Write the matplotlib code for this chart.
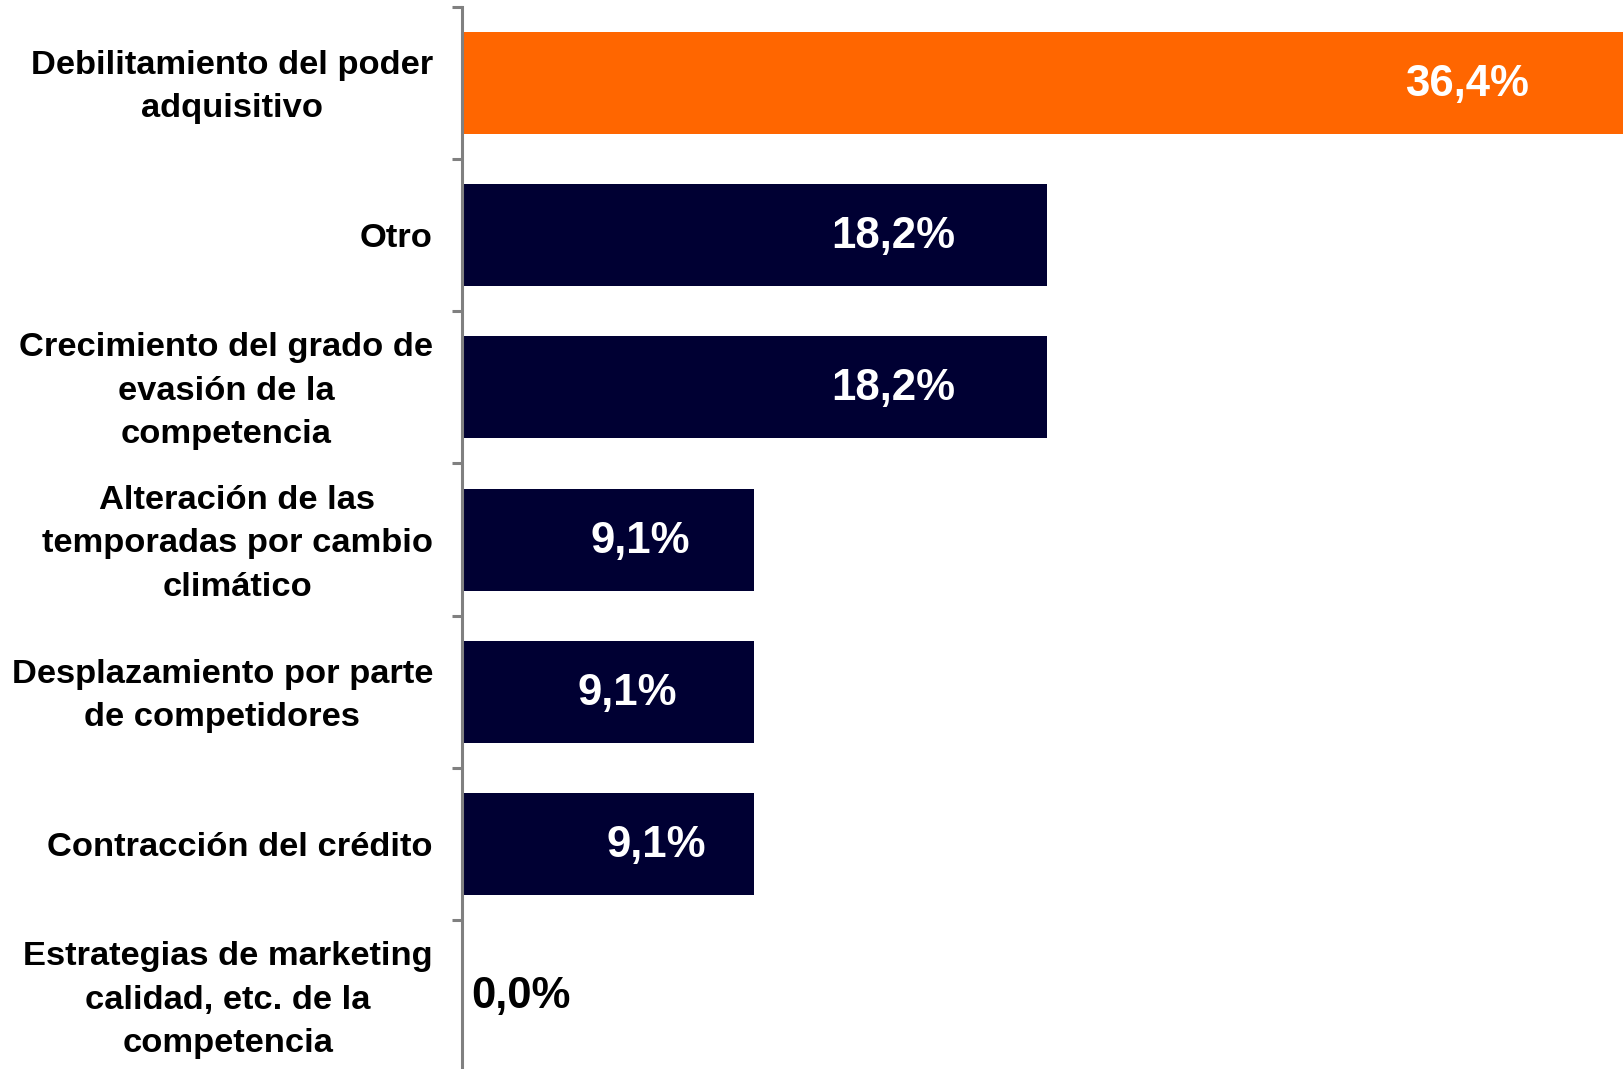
import matplotlib.pyplot as plt
from matplotlib.transforms import ScaledTranslation, blended_transform_factory

# Datos del gráfico
categorias = [
    "Debilitamiento del poder\nadquisitivo",
    "Otro",
    "Crecimiento del grado de\nevasión de la\ncompetencia",
    "Alteración de las\ntemporadas por cambio\nclimático",
    "Desplazamiento por parte\nde competidores",
    "Contracción del crédito",
    "Estrategias de marketing\ncalidad, etc. de la\ncompetencia",
]
valores = [36.4, 18.2, 18.2, 9.1, 9.1, 9.1, 0.0]
etiquetas = ["36,4%", "18,2%", "18,2%", "9,1%", "9,1%", "9,1%", "0,0%"]

NARANJA = "#FF6600"
AZUL = "#000033"

plt.rcParams['font.family'] = ['Liberation Sans', 'DejaVu Sans']

fig = plt.figure(figsize=(16.23, 10.69), dpi=100)
ax = fig.add_axes([0.2847, -0.003, 0.7153, 0.9965])

y = list(range(len(categorias)))
colores = [NARANJA] + [AZUL] * (len(valores) - 1)
ax.barh(y, valores, height=0.67, color=colores)

# posición horizontal de cada etiqueta (desplazamiento desde el final de la barra)
desplaz = [5.1, 4.76, 4.76, 3.55, 3.95, 3.05]
for i, (v, txt) in enumerate(zip(valores, etiquetas)):
    if v > 0:
        ax.text(v - desplaz[i], i + 0.01, txt, ha='center', va='center',
                color='white', fontsize=31.5, fontweight='bold')
    else:
        ax.text(0.28, i, txt, ha='left', va='center',
                color='black', fontsize=31.5, fontweight='bold')

ax.set_xlim(0, 36.15)
ax.set_ylim(len(categorias) - 0.5, -0.5)
ax.set_yticks([i - 0.5 for i in y] + [len(y) - 0.5])
ax.set_yticklabels([])
ax.tick_params(axis='y', which='major', length=7, width=2.2, color='#808080')

# etiquetas de categoría como texto
trans = blended_transform_factory(ax.transAxes, ax.transData)
for i, cat in enumerate(categorias):
    sube = -2.9 if '\n' in cat else -2.6
    t = trans + ScaledTranslation(-21 / 72, sube / 72, fig.dpi_scale_trans)
    ax.text(0, i, cat, transform=t, ha='right', va='center', ma='center',
            fontsize=24.8, fontweight='bold', linespacing=1.52)

ax.set_xticks([])
for s in ['top', 'right', 'bottom']:
    ax.spines[s].set_visible(False)
ax.spines['left'].set_color('#808080')
ax.spines['left'].set_linewidth(2.2)

fig.savefig('out.png', dpi=100)
